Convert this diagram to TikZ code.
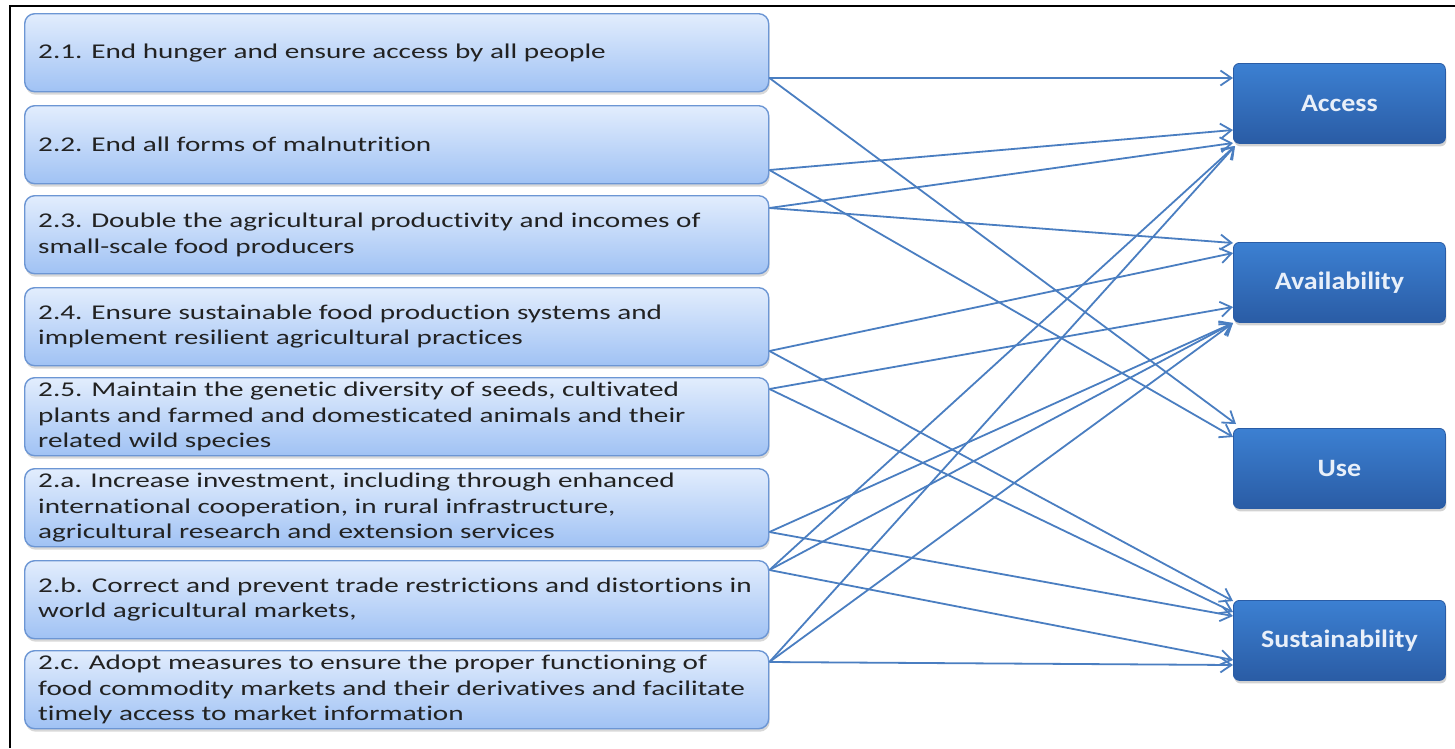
\documentclass[tikz,border=0pt]{standalone}
\usepackage{fontspec}
\newfontfamily\goalfont[FakeStretch=1.39,Ligatures=NoCommon]{Carlito}
\newfontfamily\dimfont[FakeStretch=1.12,Ligatures=NoCommon]{Carlito}
\usetikzlibrary{arrows.meta,calc,shadows}
\definecolor{linkblue}{RGB}{74,126,193}
\definecolor{goaltop}{RGB}{226,237,253}
\definecolor{goalbot}{RGB}{160,194,244}
\definecolor{goaledge}{RGB}{108,150,212}
\definecolor{goalink}{RGB}{34,34,34}
\definecolor{dimtop}{RGB}{60,128,210}
\definecolor{dimbot}{RGB}{42,92,165}
\definecolor{diminkc}{RGB}{232,239,249}
\begin{document}
\begin{tikzpicture}[x=1pt,y=-1pt,
  goalbox/.style={draw=goaledge, line width=1.4pt, rounded corners=10pt,
    top color=goaltop, bottom color=goalbot,
    minimum width=744pt, minimum height=78pt, anchor=north west, inner sep=0pt,
    drop shadow={shadow xshift=1pt, shadow yshift=-3pt, opacity=0.3}},
  goaltext/.style={anchor=west, align=left, inner sep=0pt, text=goalink,
    font=\goalfont\fontsize{21}{25.5}\selectfont},
  dimbox/.style={draw=dimbot, line width=0.8pt, rounded corners=6pt,
    top color=dimtop, bottom color=dimbot,
    minimum width=212pt, minimum height=80pt, anchor=north west, inner sep=0pt,
    text=diminkc, font=\dimfont\bfseries\fontsize{25}{30}\selectfont,
    drop shadow={shadow xshift=1pt, shadow yshift=-3pt, opacity=0.35}},
  link/.style={draw=linkblue, line width=1.8pt,
    -{Straight Barb[length=11pt,width=15pt,line width=1.8pt]}},
]
\useasboundingbox (0,0) rectangle (1455,748);
\fill[white] (0,0) rectangle (1455,748);

% frame
\draw[line width=2.5pt] (10,748) -- (10,6) -- (1455,6);

% goal boxes
\node[goalbox] (g1) at (24,13) {};
\node[goalbox] (g2) at (24,105) {};
\node[goalbox] (g3) at (24,195) {};
\node[goalbox] (g4) at (24,287) {};
\node[goalbox] (g5) at (24,377) {};
\node[goalbox] (g6) at (24,468) {};
\node[goalbox] (g7) at (24,560) {};
\node[goalbox] (g8) at (24,650) {};

\node[goaltext] (t1) at ($(g1.west)+(14,0)$) {2.1. End hunger and ensure access by all people};
\node[goaltext] (t2) at ($(g2.west)+(14,0)$) {2.2. End all forms of malnutrition};
\node[goaltext] (t3) at ($(g3.west)+(14,0)$) {2.3. Double the agricultural productivity and incomes of\\small-scale food producers};
\node[goaltext] (t4) at ($(g4.west)+(14,0)$) {2.4. Ensure sustainable food production systems and\\implement resilient agricultural practices};
\node[goaltext] (t5) at ($(g5.west)+(14,0)$) {2.5. Maintain the genetic diversity of seeds, cultivated\\plants and farmed and domesticated animals and their\\related wild species};
\node[goaltext] (t6) at ($(g6.west)+(14,0)$) {2.a. Increase investment, including through enhanced\\international cooperation, in rural infrastructure,\\agricultural research and extension services};
\node[goaltext] (t7) at ($(g7.west)+(14,0)$) {2.b. Correct and prevent trade restrictions and distortions in\\world agricultural markets,};
\node[goaltext] (t8) at ($(g8.west)+(14,0)$) {2.c. Adopt measures to ensure the proper functioning of\\food commodity markets and their derivatives and facilitate\\timely access to market information};

% dimension boxes
\node[dimbox] (acc) at (1233,63) {Access};
\node[dimbox] (ava) at (1233,242) {Availability};
\node[dimbox] (use) at (1233,428) {Use};
\node[dimbox] (sus) at (1233,600) {Sustainability};

% connector ends on the goal boxes
\coordinate (p1) at ($(g1.north east)+(0,65)$);
\coordinate (p2) at ($(g2.north east)+(0,65)$);
\coordinate (p3) at ($(g3.north east)+(0,13)$);
\coordinate (p4) at ($(g4.north east)+(0,64)$);
\coordinate (p5) at ($(g5.north east)+(0,12)$);
\coordinate (p6) at ($(g6.north east)+(0,64)$);
\coordinate (p7) at ($(g7.north east)+(0,10)$);
\coordinate (p8) at ($(g8.north east)+(0,12)$);

% connector ends on the dimension boxes
\coordinate (a1) at ($(acc.north west)+(0,15)$);
\coordinate (a2) at ($(acc.north west)+(0,67)$);
\coordinate (a3) at ($(acc.north west)+(0,80)$);
\coordinate (a4) at ($(acc.north west)+(2,83)$);
\coordinate (v1) at ($(ava.north west)+(0,1)$);
\coordinate (v2) at ($(ava.north west)+(0,11)$);
\coordinate (v3) at ($(ava.north west)+(0,65)$);
\coordinate (v4) at ($(ava.north west)+(0,81)$);
\coordinate (u1) at ($(use.north west)+(3,-4)$);
\coordinate (u2) at ($(use.north west)+(0,9)$);
\coordinate (s1) at ($(sus.north west)+(0,1)$);
\coordinate (s2) at ($(sus.north west)+(0,12)$);
\coordinate (s3) at ($(sus.north west)+(0,16)$);
\coordinate (s4) at ($(sus.north west)+(0,60)$);
\coordinate (s5) at ($(sus.north west)+(0,65)$);

% links
\draw[link] (p1) -- (a1);
\draw[link] (p1) -- (u1);
\draw[link] (p2) -- (a2);
\draw[link] (p2) -- (u2);
\draw[link] (p3) -- (a3);
\draw[link] (p3) -- (v1);
\draw[link] (p4) -- (v2);
\draw[link] (p4) -- (s1);
\draw[link] (p5) -- (v3);
\draw[link] (p5) -- (s2);
\draw[link] (p6) -- (v4);
\draw[link] (p6) -- (s3);
\draw[link] (p7) -- (a4);
\draw[link] (p7) -- (v4);
\draw[link] (p7) -- (s4);
\draw[link] (p8) -- (a4);
\draw[link] (p8) -- (v4);
\draw[link] (p8) -- (s5);
\end{tikzpicture}
\end{document}
